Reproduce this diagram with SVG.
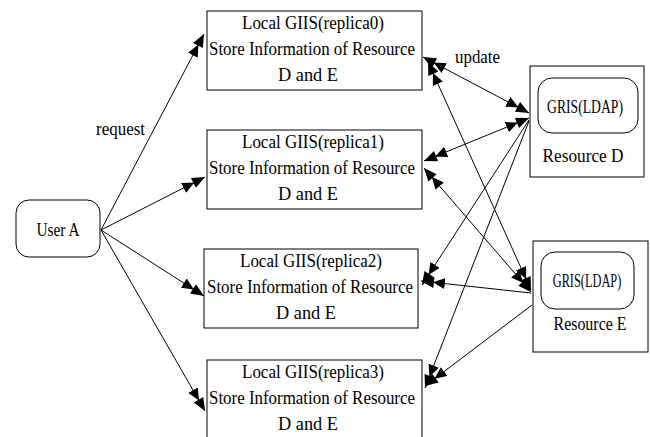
<svg xmlns="http://www.w3.org/2000/svg" width="650" height="437" viewBox="0 0 650 437">
<style>
.box{fill:#fff;stroke:#000;stroke-width:1}
.t{font-family:"Liberation Serif","DejaVu Serif",serif;font-size:19px;fill:#000}
.m{text-anchor:middle}
.c{stroke:#000;stroke-width:1;fill:none}
</style>
<defs>
<marker id="ah" viewBox="0 0 24 11" refX="24" refY="5.5" markerWidth="24" markerHeight="11" markerUnits="userSpaceOnUse" orient="auto-start-reverse">
<path d="M0,0 L12,5.5 L0,11 z M11,0 L24,5.5 L11,11 z" fill="#000"/>
</marker>
</defs>
<rect width="650" height="437" fill="#fff"/>
<g id="userA">
<rect class="box" x="16" y="200" width="84" height="57" rx="13"/>
<text class="t m" x="58" y="236" textLength="43" lengthAdjust="spacingAndGlyphs">User A</text>
</g>
<g id="giis0">
<rect class="box" x="207" y="11" width="215" height="79"/>
<text class="t m" x="313" y="29" textLength="142" lengthAdjust="spacingAndGlyphs">Local GIIS(replica0)</text>
<text class="t m" x="312" y="55" textLength="206" lengthAdjust="spacingAndGlyphs">Store Information of Resource</text>
<text class="t m" x="308" y="81" textLength="60" lengthAdjust="spacingAndGlyphs">D and E</text>
</g>
<g id="giis1">
<rect class="box" x="207" y="130" width="215" height="79"/>
<text class="t m" x="313" y="148" textLength="142" lengthAdjust="spacingAndGlyphs">Local GIIS(replica1)</text>
<text class="t m" x="312" y="174" textLength="206" lengthAdjust="spacingAndGlyphs">Store Information of Resource</text>
<text class="t m" x="308" y="200" textLength="60" lengthAdjust="spacingAndGlyphs">D and E</text>
</g>
<g id="giis2">
<rect class="box" x="204" y="249" width="214" height="79"/>
<text class="t m" x="311" y="267" textLength="142" lengthAdjust="spacingAndGlyphs">Local GIIS(replica2)</text>
<text class="t m" x="310" y="293" textLength="206" lengthAdjust="spacingAndGlyphs">Store Information of Resource</text>
<text class="t m" x="306" y="319" textLength="60" lengthAdjust="spacingAndGlyphs">D and E</text>
</g>
<g id="giis3">
<rect class="box" x="207" y="360" width="215" height="90"/>
<text class="t m" x="313" y="378" textLength="142" lengthAdjust="spacingAndGlyphs">Local GIIS(replica3)</text>
<text class="t m" x="312" y="404" textLength="206" lengthAdjust="spacingAndGlyphs">Store Information of Resource</text>
<text class="t m" x="308" y="430" textLength="60" lengthAdjust="spacingAndGlyphs">D and E</text>
</g>
<g id="resD">
<rect class="box" x="530" y="66" width="114" height="111"/>
<rect class="box" x="538" y="78" width="100" height="55" rx="14"/>
<text class="t m" transform="translate(585,113) scale(0.72,1)" x="0" y="0">GRIS(LDAP)</text>
<text class="t m" x="583" y="162" textLength="81" lengthAdjust="spacingAndGlyphs">Resource D</text>
</g>
<g id="resE">
<rect class="box" x="533" y="241" width="115" height="111"/>
<rect class="box" x="541" y="252" width="93" height="57" rx="14"/>
<text class="t m" transform="translate(587,287) scale(0.65,1)" x="0" y="0">GRIS(LDAP)</text>
<text class="t m" x="590" y="330" textLength="73" lengthAdjust="spacingAndGlyphs">Resource E</text>
</g>
<g id="connectors">
<line class="c" x1="101" y1="230" x2="204" y2="34" marker-end="url(#ah)"/>
<line class="c" x1="101" y1="230" x2="205" y2="177" marker-end="url(#ah)"/>
<line class="c" x1="101" y1="230" x2="204" y2="296" marker-end="url(#ah)"/>
<line class="c" x1="101" y1="230" x2="205" y2="411" marker-end="url(#ah)"/>
<line class="c" x1="423" y1="57" x2="529" y2="113" marker-start="url(#ah)" marker-end="url(#ah)"/>
<line class="c" x1="424" y1="161" x2="529" y2="118" marker-start="url(#ah)" marker-end="url(#ah)"/>
<line class="c" x1="422" y1="285" x2="529" y2="120" marker-start="url(#ah)"/>
<line class="c" x1="425" y1="388" x2="529" y2="121" marker-start="url(#ah)"/>
<line class="c" x1="428" y1="62" x2="531" y2="290" marker-start="url(#ah)" marker-end="url(#ah)"/>
<line class="c" x1="424" y1="168" x2="531" y2="292" marker-start="url(#ah)" marker-end="url(#ah)"/>
<line class="c" x1="421" y1="281" x2="531" y2="293" marker-start="url(#ah)"/>
<line class="c" x1="425" y1="386" x2="532" y2="305" marker-start="url(#ah)"/>
<text class="t" x="96" y="135" textLength="49" lengthAdjust="spacingAndGlyphs">request</text>
<text class="t" x="455" y="63" textLength="45" lengthAdjust="spacingAndGlyphs">update</text>
</g>
</svg>
